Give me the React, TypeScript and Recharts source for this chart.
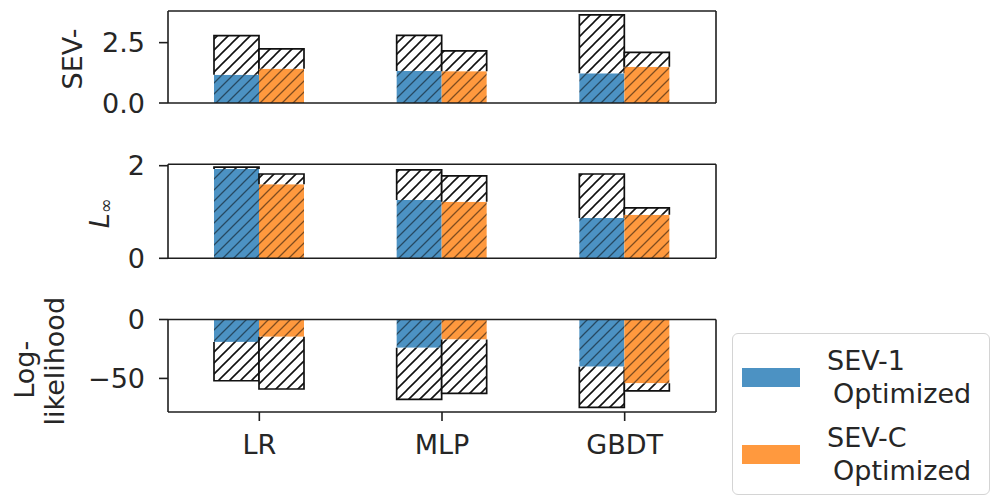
import { Bar, BarChart, Legend, XAxis, YAxis } from 'recharts'

const categories = ['LR', 'MLP', 'GBDT']
const seriesNames = ['SEV-1\nOptimized', 'SEV-C\nOptimized']

// SEV- panel: hatched = baseline, filled = optimized
const sevBase1 = [2.79, 2.8, 3.65]
const sevOpt1 = [1.17, 1.33, 1.23]
const sevBaseC = [2.24, 2.16, 2.1]
const sevOptC = [1.42, 1.32, 1.5]

// L-infinity panel
const linfBase1 = [1.97, 1.91, 1.82]
const linfOpt1 = [1.93, 1.26, 0.87]
const linfBaseC = [1.82, 1.78, 1.09]
const linfOptC = [1.6, 1.22, 0.94]

// Log-likelihood panel
const llBase1 = [-52, -67.8, -74.6]
const llOpt1 = [-19, -24, -40]
const llBaseC = [-59, -62.7, -60.5]
const llOptC = [-14.7, -17, -54.2]

const sevTicks = [0, 2.5]
const linfTicks = [0, 2]
const llTicks = [-50, 0]

const BLUE = '#4c92c3'
const ORANGE = '#ff993e'
const INK = '#262626'
const FRAME = '#1e1e1e'
const FONT = '"DejaVu Sans", sans-serif'
const FS = 27

function buildRows(base1: number[], opt1: number[], baseC: number[], optC: number[]) {
  return categories.map((model, i) => ({
    model,
    opt1: opt1[i],
    gap1: base1[i] - opt1[i],
    optC: optC[i],
    gapC: baseC[i] - optC[i],
  }))
}

const sevRows = buildRows(sevBase1, sevOpt1, sevBaseC, sevOptC)
const linfRows = buildRows(linfBase1, linfOpt1, linfBaseC, linfOptC)
const llRows = buildRows(llBase1, llOpt1, llBaseC, llOptC)

function HatchedGap(props: any) {
  const { x, y, width, height, down } = props
  if (!width || !height) return null
  const top = Math.min(y, y + height)
  const h = Math.abs(height)
  const outline = down
    ? `M${x},${top} L${x},${top + h} L${x + width},${top + h} L${x + width},${top}`
    : `M${x},${top + h} L${x},${top} L${x + width},${top} L${x + width},${top + h}`
  return (
    <g>
      <rect x={x} y={top} width={width} height={h} fill="url(#hatch-plain)" />
      <path d={outline} fill="none" stroke="#111" strokeWidth={1.7} />
    </g>
  )
}

function renderBars(down: boolean) {
  return [
    <Bar key="o1" dataKey="opt1" name={seriesNames[0]} stackId="s1" fill="url(#hatch-blue)" isAnimationActive={false} />,
    <Bar key="g1" dataKey="gap1" stackId="s1" legendType="none" isAnimationActive={false}
      shape={(p: any) => <HatchedGap {...p} down={down} />} />,
    <Bar key="oc" dataKey="optC" name={seriesNames[1]} stackId="sc" fill="url(#hatch-orange)" isAnimationActive={false} />,
    <Bar key="gc" dataKey="gapC" stackId="sc" legendType="none" isAnimationActive={false}
      shape={(p: any) => <HatchedGap {...p} down={down} />} />,
  ]
}

type TitleLine = { content: any; dx: number; dy: number }

function YTitle(props: any) {
  const { viewBox, lines } = props
  if (!viewBox) return null
  const right = viewBox.x + viewBox.width
  const cy = viewBox.y + viewBox.height / 2
  return (
    <g>
      {lines.map((l: TitleLine, i: number) => {
        const cx = right - l.dx
        const ty = cy + l.dy
        return (
          <text key={i} x={cx} y={ty} transform={`rotate(-90 ${cx} ${ty})`} textAnchor="middle"
            dominantBaseline="central" fill={INK} fontSize={FS} fontFamily={FONT}>
            {l.content}
          </text>
        )
      })}
    </g>
  )
}

const lineStyle = { stroke: FRAME, strokeWidth: 1.6 }

function frameAxes() {
  return [
    <XAxis key="ft" xAxisId="top" orientation="top" dataKey="model" tick={false} tickLine={false} height={1}
      axisLine={lineStyle} />,
    <YAxis key="fr" yAxisId="right" orientation="right" tick={false} tickLine={false} width={1}
      axisLine={lineStyle} />,
  ]
}

const tickStyle = { fill: INK, fontSize: FS, fontFamily: FONT }

function LegendBox(props: any) {
  const colors = [BLUE, ORANGE]
  const payload = props.payload || []
  return (
    <div style={{ width: 258, height: 162, boxSizing: 'border-box', border: '1.5px solid #d4d4d4',
      borderRadius: 6, background: '#fff', paddingTop: 5, overflow: 'hidden' }}>
      {payload.map((entry: any, i: number) => (
        <div key={i} style={{ display: 'flex', alignItems: 'center', height: 77 }}>
          <div style={{ width: 58, height: 19, background: colors[i], marginLeft: 9 }} />
          <div style={{ marginLeft: 27, fontSize: FS, lineHeight: '32.5px', color: INK, fontFamily: FONT }}>
            {String(entry.value).split('\n').map((line, j) => (
              <div key={j} style={{ paddingLeft: j ? 6 : 0 }}>{line}</div>
            ))}
          </div>
        </div>
      ))}
    </div>
  )
}

export default function App() {
  return (
    <div style={{ position: 'fixed', left: 0, top: 0, width: 991, height: 498, background: '#fff', overflow: 'hidden' }}>
      <svg width={0} height={0} style={{ position: 'absolute' }}>
        <defs>
          <pattern id="hatch-plain" patternUnits="userSpaceOnUse" width={11} height={11}>
            <rect width={11} height={11} fill="#fff" />
            <path d="M-2,2 L2,-2 M0,11 L11,0 M9,13 L13,9" stroke="#111" strokeWidth={1.6} />
          </pattern>
          <pattern id="hatch-blue" patternUnits="userSpaceOnUse" width={11} height={11}>
            <rect width={11} height={11} fill={BLUE} />
            <path d="M-2,2 L2,-2 M0,11 L11,0 M9,13 L13,9" stroke="rgba(0,0,0,0.5)" strokeWidth={1.3} />
          </pattern>
          <pattern id="hatch-orange" patternUnits="userSpaceOnUse" width={11} height={11}>
            <rect width={11} height={11} fill={ORANGE} />
            <path d="M-2,2 L2,-2 M0,11 L11,0 M9,13 L13,9" stroke="rgba(0,0,0,0.5)" strokeWidth={1.3} />
          </pattern>
        </defs>
      </svg>

      <div style={{ position: 'absolute', left: 0, top: 0 }}>
        <BarChart width={991} height={125} data={sevRows} barSize={45} barGap={0}
          margin={{ top: 10, right: 274, bottom: 21, left: 108 }}>
          <XAxis dataKey="model" tick={false} tickLine={false} height={1} axisLine={lineStyle} />
          <YAxis type="number" domain={[0, 3.81]} ticks={sevTicks} interval={0} allowDataOverflow width={60}
            tickFormatter={(v: number) => v.toFixed(1)} tick={tickStyle} tickSize={9} tickMargin={14}
            tickLine={lineStyle} axisLine={lineStyle}
            label={<YTitle lines={[{ content: 'SEV-', dx: 96, dy: 2 }]} />} />
          {frameAxes()}
          {renderBars(false)}
        </BarChart>
      </div>

      <div style={{ position: 'absolute', left: 0, top: 140 }}>
        <BarChart width={991} height={140} data={linfRows} barSize={45} barGap={0}
          margin={{ top: 23.3, right: 274, bottom: 20.7, left: 108 }}>
          <XAxis dataKey="model" tick={false} tickLine={false} height={1} axisLine={lineStyle} />
          <YAxis type="number" domain={[0, 2.03]} ticks={linfTicks} interval={0} allowDataOverflow width={60}
            tick={tickStyle} tickSize={9} tickMargin={14}
            tickLine={lineStyle} axisLine={lineStyle}
            label={<YTitle lines={[{
              content: [
                <tspan key="l" fontStyle="italic">L</tspan>,
                <tspan key="s" fontSize={18} dy={6}>∞</tspan>,
              ],
              dx: 69, dy: 2,
            }]} />} />
          {frameAxes()}
          {renderBars(false)}
        </BarChart>
      </div>

      <div style={{ position: 'absolute', left: 0, top: 280 }}>
        <BarChart width={991} height={218} data={llRows} barSize={45} barGap={0}
          margin={{ top: 38.5, right: 274, bottom: 36, left: 108 }}>
          <XAxis dataKey="model" height={50} tick={tickStyle} tickSize={9} tickMargin={14} interval={0}
            tickLine={lineStyle} axisLine={lineStyle} />
          <YAxis type="number" domain={[-78.5, 0]} ticks={llTicks} interval={0} allowDataOverflow width={60}
            tickFormatter={(v: number) => (v < 0 ? '\u2212' + Math.abs(v) : String(v))}
            tick={tickStyle} tickSize={9} tickMargin={14}
            tickLine={lineStyle} axisLine={lineStyle}
            label={<YTitle lines={[
              { content: 'Log-', dx: 144, dy: 4 },
              { content: 'likelihood', dx: 113.5, dy: -4.5 },
            ]} />} />
          {frameAxes()}
          {renderBars(true)}
          <Legend layout="vertical" align="center" verticalAlign="middle"
            wrapperStyle={{ left: 732, top: 53, width: 258 }}
            content={(p: any) => <LegendBox {...p} />} />
        </BarChart>
      </div>
    </div>
  )
}
